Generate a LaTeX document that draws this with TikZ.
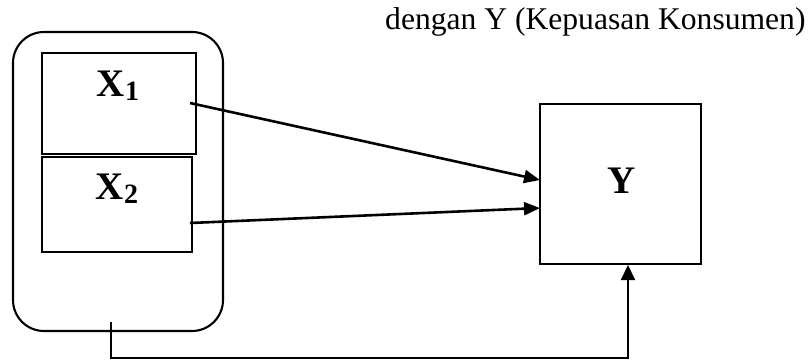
\documentclass[tikz,border=0pt]{standalone}
\usepackage{fontspec}
\setmainfont{Liberation Serif}
\usetikzlibrary{arrows.meta}
\begin{document}
\begin{tikzpicture}[x=1pt,y=-1pt,
  box/.style={draw,line width=1.9pt,inner sep=0pt},
  lbl/.style={font=\fontsize{39}{39}\selectfont\bfseries,inner sep=0pt},
  arr/.style={line width=2.6pt,-{Triangle[length=16pt,width=13pt]}},
  conn/.style={line width=2.1pt}]
\useasboundingbox (0,0) rectangle (809,360);
% outer rounded box
\draw[line width=2.1pt,rounded corners=31pt] (13,32) rectangle (223,331);
% X boxes
\draw[box] (42,53) rectangle (196,154);
\draw[box] (42,157) rectangle (192,252);
\node[lbl] (x1) at (118,86) {X\raisebox{-4pt}{\fontsize{28}{28}\selectfont 1}};
\node[lbl] (x2) at (117,189) {X\raisebox{-4pt}{\fontsize{28}{28}\selectfont 2}};
% Y box
\draw[box] (540,104) rectangle (701,264);
\node[lbl] (y) at (622,181) {Y};
% title text
\node[anchor=base west,inner sep=0pt,font=\fontsize{31.6}{31.6}\selectfont] (t) at (385,29) {dengan Y (Kepuasan Konsumen)};
% connector points
\coordinate (a1) at (190,103);
\coordinate (b1) at (540,180);
\coordinate (a2) at (190,223);
\coordinate (b2) at (540,208);
\coordinate (c0) at (111,322);
\coordinate (c1) at (111,358);
\coordinate (c2) at (628,358);
\coordinate (c3) at (628,265);
\draw[arr] (a1) -- (b1);
\draw[arr] (a2) -- (b2);
\draw[conn,-{Triangle[length=15pt,width=14pt]}] (c0) -- (c1) -- (c2) -- (c3);
\end{tikzpicture}
\end{document}
